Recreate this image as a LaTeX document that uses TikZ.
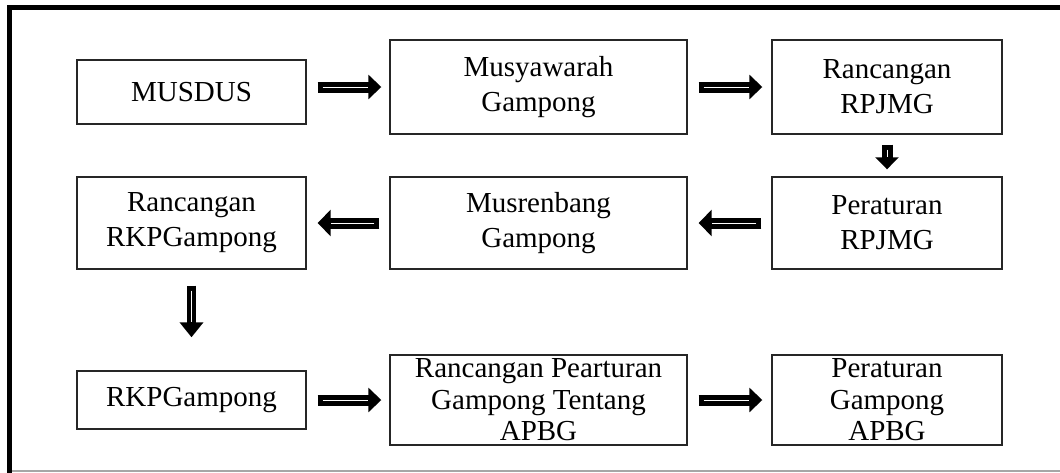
\documentclass[tikz,border=0pt]{standalone}
\usepackage{fontspec}
\setmainfont{Liberation Serif}
\usetikzlibrary{arrows.meta}
\tikzset{
  box/.style={draw=black!85, line width=1.4pt, inner sep=0pt, align=center,
    font=\fontsize{29pt}{35pt}\selectfont},
  tight/.style={font=\fontsize{29pt}{31.5pt}\selectfont},
  fat/.style={black, line width=#1},
  whiteline/.style={white, line width=0.6pt},
}
% #1 shaft width, #2 head spec, #3 from, #4 to, #5 shorten start, #6 shorten end, #7 head length
\newcommand\fatarr[7]{%
  \draw[fat=#1, -{Triangle[#2]}, shorten <=#5, shorten >=#6] #3 -- #4;
  \draw[whiteline, shorten <=#5+5pt, shorten >=#6+#7] #3 -- #4;}
\begin{document}
\begin{tikzpicture}[x=1pt,y=-1pt]
\useasboundingbox (0,0) rectangle (1060,472);
% frame
\draw[line width=5.5pt, miter limit=10] (9.5,475) -- (9.5,7.5) -- (1065,7.5);
\draw[black!35, line width=1.2pt] (12.3,471) -- (1060,471);
% nodes
\node[box, minimum width=229pt, minimum height=64pt] (musdus) at (191.5,92) {MUSDUS};
\node[box, minimum width=297pt, minimum height=94pt] (musy) at (538.5,87) {Musyawarah\\Gampong};
\node[box, minimum width=230pt, minimum height=94pt] (rrpjmg) at (887,87) {Rancangan\\RPJMG};
\node[box, minimum width=230pt, minimum height=92pt] (prpjmg) at (887,223) {Peraturan\\RPJMG};
\node[box, minimum width=297pt, minimum height=92pt] (musren) at (538.5,223) {Musrenbang\\Gampong};
\node[box, minimum width=229pt, minimum height=92pt] (rrkp) at (191.5,223) {Rancangan\\RKPGampong};
\node[box, minimum width=229pt, minimum height=58pt] (rkp) at (191.5,400) {RKPGampong};
\node[box, tight, minimum width=297pt, minimum height=90pt] (rpear) at (538.5,400) {Rancangan Pearturan\\Gampong Tentang\\APBG};
\node[box, tight, minimum width=230pt, minimum height=90pt] (pgapbg) at (887,400) {Peraturan\\Gampong\\APBG};
% arrows
\fatarr{11pt}{length=13pt,width=24pt}{(musdus.east |- musy.west)}{(musy.west)}{11pt}{8pt}{13pt}
\fatarr{11pt}{length=13pt,width=24pt}{(musy.east)}{(rrpjmg.west)}{11pt}{9pt}{13pt}
\fatarr{11pt}{length=12pt,width=23pt}{(rrpjmg.south)}{(prpjmg.north)}{10pt}{7pt}{12pt}
\fatarr{11pt}{length=13pt,width=26pt}{(prpjmg.west)}{(musren.east)}{10pt}{11pt}{13pt}
\fatarr{11pt}{length=13pt,width=26pt}{(musren.west)}{(rrkp.east)}{10pt}{11pt}{13pt}
\fatarr{9pt}{length=15pt,width=23pt}{(rrkp.south)}{(rkp.north)}{16pt}{33pt}{15pt}
\fatarr{11pt}{length=13pt,width=24pt}{(rkp.east)}{(rpear.west)}{11pt}{8pt}{13pt}
\fatarr{11pt}{length=13pt,width=24pt}{(rpear.east)}{(pgapbg.west)}{11pt}{9pt}{13pt}
\end{tikzpicture}
\end{document}
